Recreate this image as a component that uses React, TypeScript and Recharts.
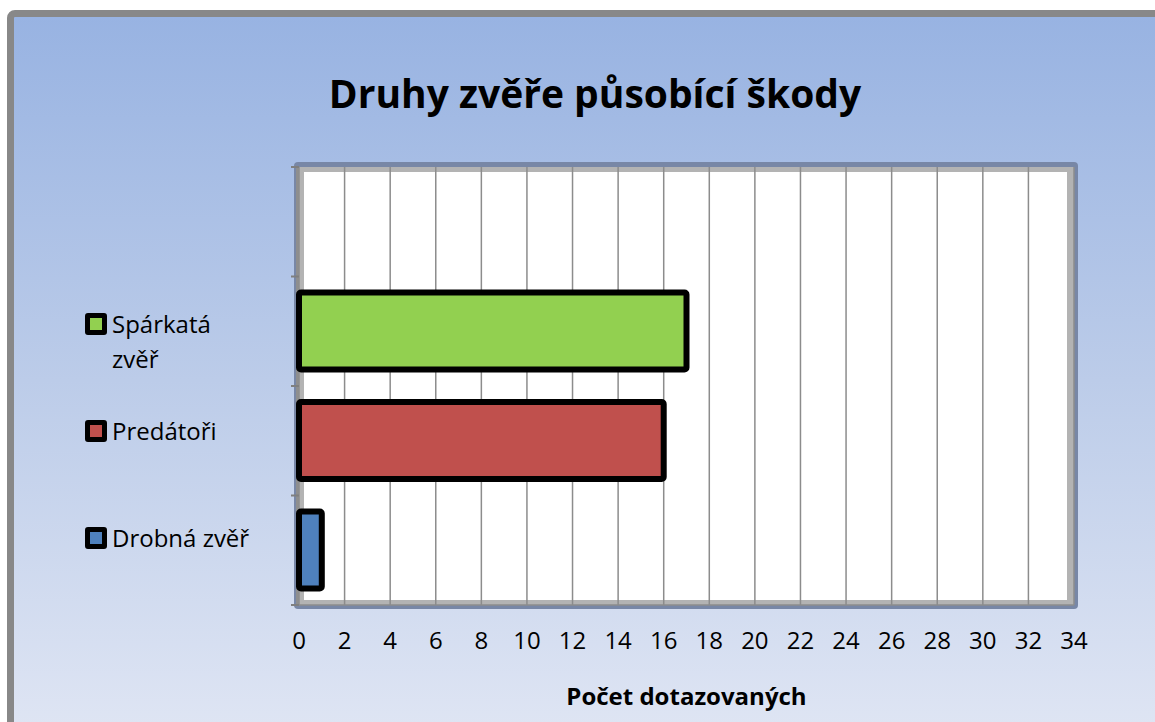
import {
  Bar,
  BarChart,
  CartesianGrid,
  Label,
  Legend,
  XAxis,
  YAxis,
} from "recharts";

const title = "Druhy zvěře působící škody";
const xAxisTitle = "Počet dotazovaných";

// series in Excel order (first series sits at the bottom)
const seriesNames = ["Drobná zvěř", "Predátoři", "Spárkatá zvěř"];
const seriesValues = [1, 16, 17];
const seriesColors = ["#4f81bd", "#c0504d", "#92d050"];

// category rows from top to bottom; the top row is empty
const categories = ["", "Spárkatá zvěř", "Predátoři", "Drobná zvěř"];

const xTicks = [0, 2, 4, 6, 8, 10, 12, 14, 16, 18, 20, 22, 24, 26, 28, 30, 32, 34];

const FONT = '"Open Sans", "Noto Sans", sans-serif';

const data = categories.map((name) => {
  const row: Record<string, string | number | null> = { name };
  seriesNames.forEach((s, i) => {
    row[`s${i}`] = s === name ? seriesValues[i] : null;
  });
  return row;
});

type LegendEntry = { value: string; color: string };

function SideLegend({ payload }: { payload?: LegendEntry[] }) {
  if (!payload?.length) return null;
  const items = [...payload].reverse();
  return (
    <div style={{ fontFamily: FONT, fontSize: 24, color: "#000" }}>
      {items.map((item) => (
        <div
          key={item.value}
          style={{ display: "flex", alignItems: "flex-start", height: 107 }}
        >
          <span
            style={{
              boxSizing: "border-box",
              width: 22,
              height: 22,
              marginTop: 7,
              marginRight: 5,
              border: "5px solid #000",
              borderRadius: 3,
              background: item.color,
              flex: "none",
            }}
          />
          <span style={{ lineHeight: "35px", maxWidth: 150, textAlign: "left" }}>
            {item.value}
          </span>
        </div>
      ))}
    </div>
  );
}

// Excel puts category tick marks on the band edges, not the centres
function BandEdgeTick(props: {
  x?: number;
  y?: number;
  index?: number;
  payload?: { offset?: number };
}) {
  const { x = 0, y = 0, index = 0, payload } = props;
  const half = payload?.offset ?? 0;
  const isLast = index === categories.length - 1;
  return (
    <g>
      <line x1={x - 8} x2={x} y1={y - half} y2={y - half} stroke="#7f7f7f" strokeWidth={2} />
      {isLast && (
        <line x1={x - 8} x2={x} y1={y + half} y2={y + half} stroke="#7f7f7f" strokeWidth={2} />
      )}
    </g>
  );
}

export default function App() {
  return (
    <div
      style={{
        position: "absolute",
        left: 0,
        top: 0,
        width: 1155,
        height: 722,
        overflow: "hidden",
        background: "#fff",
      }}
    >
      {/* outer chart frame */}
      <div
        style={{
          position: "absolute",
          left: 7,
          top: 10,
          width: 1170,
          height: 740,
          boxSizing: "border-box",
          border: "7px solid #888888",
          borderRadius: 8,
          background: "linear-gradient(180deg, #98b3e2 0%, #bccce9 50%, #e0e6f4 100%)",
        }}
      />
      {/* plot wall */}
      <div
        style={{
          position: "absolute",
          left: 294,
          top: 162,
          width: 784,
          height: 447,
          borderRadius: 4,
          background: "#7887a6",
        }}
      />
      <div
        style={{
          position: "absolute",
          left: 296,
          top: 167,
          width: 778,
          height: 438,
          boxSizing: "border-box",
          borderLeft: "3px solid #8e8e8e",
          background: "#fff",
        }}
      >
        <div
          style={{
            width: "100%",
            height: "100%",
            boxSizing: "border-box",
            border: "5px solid #b3b3b3",
            borderRightWidth: 7,
          }}
        />
      </div>
      <div
        style={{
          position: "absolute",
          left: 0,
          top: 66,
          width: 1190,
          textAlign: "center",
          fontFamily: FONT,
          fontWeight: 700,
          fontSize: 39,
          color: "#000",
        }}
      >
        {title}
      </div>
      <div style={{ position: "absolute", left: 0, top: 0 }}>
        <BarChart
          width={1155}
          height={722}
          data={data}
          layout="vertical"
          margin={{ top: 167, right: 81, bottom: 77, left: 289 }}
          barCategoryGap={16}
        >
          <CartesianGrid
            horizontal={false}
            stroke="#8c8c8c"
            strokeWidth={1.5}
          />
          <XAxis
            type="number"
            domain={[0, 34]}
            ticks={xTicks}
            interval={0}
            height={40}
            tickLine={false}
            tickSize={0}
            tickMargin={27}
            axisLine={{ stroke: "#8c8c8c", strokeWidth: 1.5 }}
            tick={{ fill: "#000", fontSize: 24, fontFamily: FONT }}
          >
            <Label
              value={xAxisTitle}
              position="bottom"
              offset={43}
              style={{
                fill: "#000",
                fontSize: 24,
                fontWeight: 700,
                fontFamily: FONT,
              }}
            />
          </XAxis>
          <YAxis
            type="category"
            dataKey="name"
            width={10}
            interval={0}
            axisLine={false}
            tickLine={false}
            tickSize={0}
            tickMargin={0}
            tick={<BandEdgeTick />}
          />
          <Legend
            layout="vertical"
            align="center"
            verticalAlign="middle"
            content={<SideLegend />}
            wrapperStyle={{ left: 85, top: 306, width: 200 }}
          />
          {seriesNames.map((s, i) => (
            <Bar
              key={s}
              dataKey={`s${i}`}
              name={s}
              stackId="a"
              fill={seriesColors[i]}
              stroke="#000"
              strokeWidth={6}
              radius={2}
              barSize={77}
              isAnimationActive={false}
            />
          ))}
        </BarChart>
      </div>
    </div>
  );
}
